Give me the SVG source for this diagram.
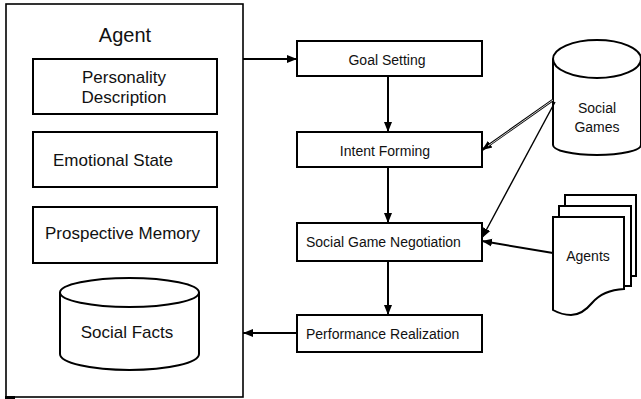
<svg xmlns="http://www.w3.org/2000/svg" width="641" height="399" viewBox="0 0 641 399">
<defs>
<style>
.box{fill:#fff;stroke:#000;stroke-width:2}
.t{font-family:"Liberation Sans",Arial,sans-serif;fill:#111}
.big{font-size:17px}
.sm{font-size:14px}
.ln{stroke:#000;stroke-width:2;fill:none}
</style>
<marker id="ah" markerUnits="userSpaceOnUse" markerWidth="10" markerHeight="10" viewBox="0 0 10 10" refX="10" refY="5" orient="auto">
<path d="M0,1 L10,5 L0,9 Z" fill="#000"/>
</marker>
</defs>
<rect width="641" height="399" fill="#fff"/>

<g id="agent">
<rect x="6" y="4" width="237" height="393" fill="#fff" stroke="#000" stroke-width="1.6"/>
<rect x="5" y="396" width="10" height="3" fill="#000"/>
<text class="t" x="125" y="42" font-size="20" text-anchor="middle">Agent</text>
</g>
<g id="personality">
<rect class="box" x="33" y="59" width="184" height="55"/>
<text class="t big" x="124" y="83" text-anchor="middle">Personality</text>
<text class="t big" x="124" y="103" text-anchor="middle">Description</text>
</g>
<g id="emotional">
<rect class="box" x="33" y="132" width="184" height="55"/>
<text class="t big" x="53" y="166">Emotional State</text>
</g>
<g id="prospective">
<rect class="box" x="33" y="207" width="184" height="56"/>
<text class="t big" x="45" y="239">Prospective Memory</text>
</g>
<g id="socialfacts">
<path class="box" d="M60,292 V354 A69.5,16 0 0 0 199,354 V292"/>
<ellipse class="box" cx="129.5" cy="292.5" rx="69.5" ry="14.5"/>
<text class="t big" x="127" y="338" text-anchor="middle">Social Facts</text>
</g>

<g id="goal">
<rect class="box" x="297" y="41" width="185" height="35"/>
<text class="t sm" x="387" y="65" text-anchor="middle">Goal Setting</text>
</g>
<g id="intent">
<rect class="box" x="297" y="132" width="185" height="35"/>
<text class="t sm" x="385" y="156" text-anchor="middle">Intent Forming</text>
</g>
<g id="negotiation">
<rect class="box" x="297" y="223" width="185" height="38"/>
<text class="t sm" x="306" y="247">Social Game Negotiation</text>
</g>
<g id="performance">
<rect class="box" x="297" y="315" width="185" height="37"/>
<text class="t sm" x="306" y="339">Performance Realization</text>
</g>

<g id="socialgames">
<path class="box" d="M553,59 V145 A44,10 0 0 0 641,145 V59"/>
<ellipse class="box" cx="597" cy="59" rx="44" ry="19"/>
<text class="t sm" x="597" y="113" text-anchor="middle">Social</text>
<text class="t sm" x="597" y="132" text-anchor="middle">Games</text>
</g>

<g id="agents">
<rect class="box" x="565" y="195" width="71" height="81"/>
<rect class="box" x="559" y="206" width="72" height="80"/>
<path class="box" d="M553,217 H624 V289 Q603,290 592,303 Q582,315 571,315 Q562,315 553,310 Z"/>
<text class="t sm" x="588" y="261" text-anchor="middle">Agents</text>
</g>

<g id="connectors">
<line class="ln" x1="243" y1="59" x2="297" y2="59" marker-end="url(#ah)"/>
<line class="ln" x1="388" y1="76" x2="388" y2="132" marker-end="url(#ah)"/>
<line class="ln" x1="388" y1="167" x2="388" y2="223" marker-end="url(#ah)"/>
<line class="ln" x1="388" y1="261" x2="388" y2="315" marker-end="url(#ah)"/>
<line class="ln" x1="297" y1="333" x2="243" y2="333" marker-end="url(#ah)"/>
<line x1="553" y1="100" x2="482" y2="150" stroke="#000" stroke-width="2.6" marker-end="url(#ah)"/>
<line x1="553" y1="100" x2="488" y2="146" stroke="#fff" stroke-width="0.8"/>
<line x1="555" y1="102" x2="482" y2="238" stroke="#000" stroke-width="1.4" marker-end="url(#ah)"/>
<line class="ln" x1="553" y1="253" x2="482" y2="241" marker-end="url(#ah)"/>
</g>
</svg>
